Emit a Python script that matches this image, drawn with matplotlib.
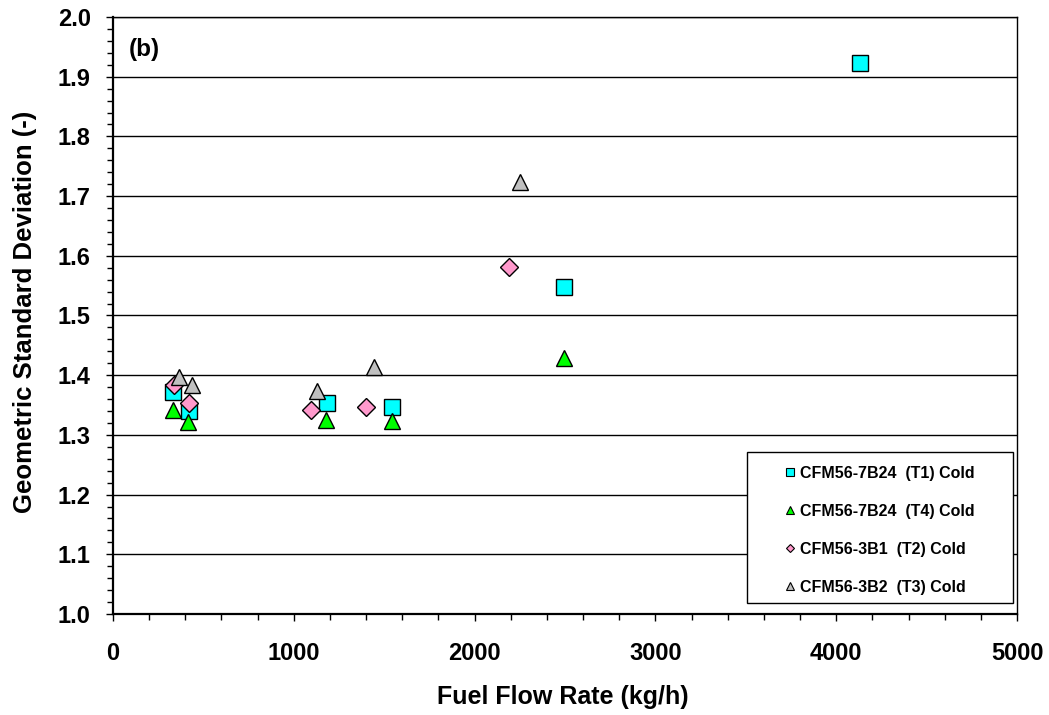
import matplotlib
matplotlib.use("Agg")
import matplotlib.pyplot as plt
from matplotlib.patches import Rectangle
from matplotlib.ticker import MultipleLocator, FormatStrFormatter

plt.rcParams["font.family"] = ["Liberation Sans", "DejaVu Sans"]
plt.rcParams["font.weight"] = "bold"

# fuel flow (kg/h) and geometric standard deviation per engine series
t1_flow = [332, 420, 1184, 1543, 2494, 4130]
t1_gsd = [1.372, 1.340, 1.353, 1.346, 1.547, 1.923]

t4_flow = [332, 415, 1180, 1543, 2494]
t4_gsd = [1.342, 1.322, 1.325, 1.323, 1.429]

t2_flow = [337, 420, 1095, 1399, 2190]
t2_gsd = [1.383, 1.353, 1.341, 1.347, 1.581]

t3_flow = [365, 437, 1128, 1444, 2251]
t3_gsd = [1.397, 1.384, 1.374, 1.413, 1.723]

series = [
    ("CFM56-7B24  (T1) Cold", t1_flow, t1_gsd, "s", "#00FFFF", 12),
    ("CFM56-7B24  (T4) Cold", t4_flow, t4_gsd, "^", "#00FF00", 12),
    ("CFM56-3B1  (T2) Cold", t2_flow, t2_gsd, "D", "#FF99CC", 9),
    ("CFM56-3B2  (T3) Cold", t3_flow, t3_gsd, "^", "#C0C0C0", 12),
]

fig = plt.figure(figsize=(10.49, 7.15), dpi=100)
ax = fig.add_axes([0.1077, 0.1413, 0.8618, 0.8349])

handles = []
for label, xs, ys, marker, color, size in series:
    ax.plot(xs, ys, linestyle="none", marker=marker, markersize=size,
            markerfacecolor=color, markeredgecolor="black", markeredgewidth=1.0,
            zorder=3)
    h, = ax.plot([], [], linestyle="none", marker=marker,
                 markersize=6 if marker != "D" else 4.5,
                 markerfacecolor=color, markeredgecolor="black",
                 markeredgewidth=0.8, label=label)
    handles.append(h)

ax.set_xlim(0, 5000)
ax.set_ylim(1.0, 2.0)
ax.xaxis.set_major_locator(MultipleLocator(1000))
ax.xaxis.set_minor_locator(MultipleLocator(200))
ax.yaxis.set_major_locator(MultipleLocator(0.1))
ax.yaxis.set_minor_locator(MultipleLocator(0.02))
ax.yaxis.set_major_formatter(FormatStrFormatter("%.1f"))

ax.grid(axis="y", which="major", color="black", linewidth=1.0, zorder=1)
ax.set_axisbelow(True)
ax.tick_params(which="both", direction="out", width=1.0, labelsize=17)
ax.tick_params(which="major", length=5)
ax.tick_params(which="minor", length=4)
ax.tick_params(axis="x", pad=15)
ax.tick_params(axis="y", pad=11)
for lab in ax.get_xticklabels() + ax.get_yticklabels():
    lab.set_fontweight("bold")

ax.spines["left"].set_linewidth(1.6)
ax.spines["bottom"].set_linewidth(1.6)
ax.spines["right"].set_linewidth(1.0)
ax.spines["top"].set_linewidth(1.0)

fig.text(563 / 1049, 1 - 697 / 715, "Fuel Flow Rate (kg/h)", fontsize=18,
         fontweight="bold", ha="center", va="center")
fig.text(25 / 1049, 1 - 312 / 715, "Geometric Standard Deviation (-)", fontsize=18.5,
         fontweight="bold", ha="center", va="center", rotation=90)

ax.text(0.017, 0.945, "(b)", transform=ax.transAxes, fontsize=17.5,
        fontweight="bold", va="center", ha="left")

# legend frame drawn separately so the entries can sit centred inside it
ax.add_patch(Rectangle((0.701, 0.018), 0.2946, 0.253, transform=ax.transAxes,
                       facecolor="white", edgecolor="black", linewidth=1.0,
                       zorder=4))
leg = ax.legend(handles=handles, loc="upper left",
                bbox_to_anchor=(0.7427, 0.2487), borderaxespad=0,
                fontsize=11.5, labelspacing=1.44, borderpad=0,
                handlelength=0.7, handletextpad=0.3, frameon=False)
leg.set_zorder(5)
for txt in leg.get_texts():
    txt.set_fontweight("bold")

fig.savefig("out.png", dpi=100)
